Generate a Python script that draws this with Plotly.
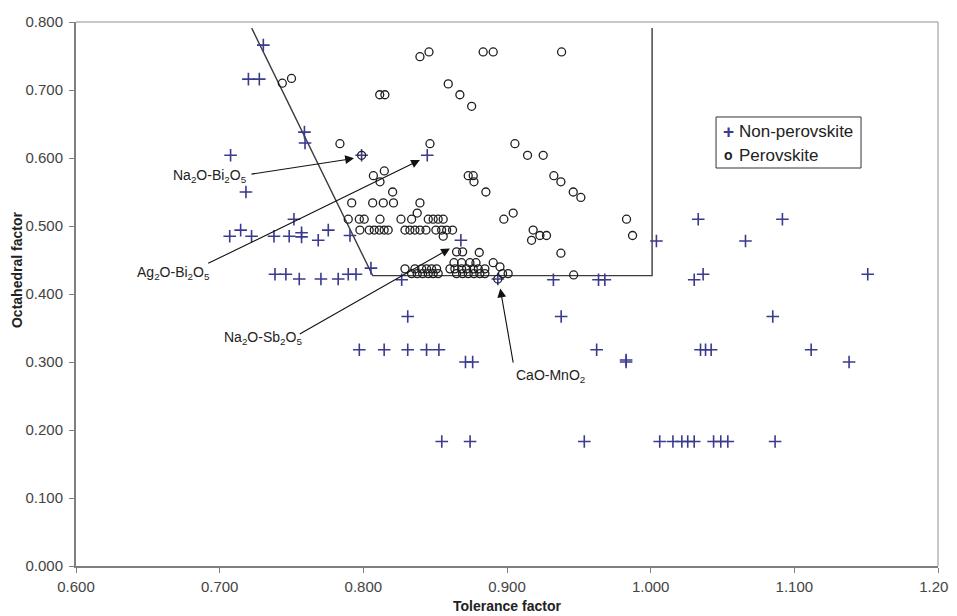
import plotly.graph_objects as go

# ---------------- data ----------------
perov_t = [0.7436, 0.7500, 0.8394, 0.8457, 0.8834, 0.8904, 0.9380, 0.8114, 0.8150, 0.8591,
           0.8672, 0.8754, 0.7837, 0.8464, 0.9055, 0.9143, 0.9252, 0.7988, 0.8070, 0.8146,
           0.8116, 0.8730, 0.8765, 0.8770, 0.9326, 0.9375, 0.8204, 0.8853, 0.9461, 0.9514,
           0.7919, 0.8065, 0.8139, 0.8210, 0.8394, 0.8375, 0.9043,
           0.7895, 0.7972, 0.8006, 0.8116, 0.8262, 0.8336, 0.8452, 0.8486, 0.8521, 0.8556,
           0.8978, 0.9832,
           0.7976, 0.8041, 0.8076, 0.8111, 0.8145, 0.8173, 0.8290, 0.8324, 0.8359, 0.8394,
           0.8436, 0.8505, 0.8545, 0.8580, 0.8621, 0.9182,
           0.8556, 0.9229, 0.9275, 0.9874, 0.9171,
           0.8649, 0.8691, 0.8807, 0.9375,
           0.8631, 0.8684, 0.8742, 0.8784, 0.8904, 0.8951,
           0.8290, 0.8359, 0.8406, 0.8440, 0.8475, 0.8510, 0.8603, 0.8637, 0.8684, 0.8719,
           0.8765, 0.8800, 0.8846,
           0.8336, 0.8375, 0.8413, 0.8452, 0.8486, 0.8521, 0.8649, 0.8691, 0.8730, 0.8770,
           0.8811, 0.8846, 0.8969, 0.9008, 0.9464, 0.8936]
perov_mu = [0.710, 0.717, 0.749, 0.756, 0.756, 0.756, 0.756, 0.693, 0.693, 0.709,
            0.693, 0.676, 0.621, 0.621, 0.621, 0.604, 0.604, 0.604, 0.574, 0.581,
            0.565, 0.574, 0.574, 0.565, 0.574, 0.565, 0.550, 0.550, 0.550, 0.542,
            0.534, 0.534, 0.534, 0.534, 0.534, 0.519, 0.519,
            0.510, 0.510, 0.510, 0.510, 0.510, 0.510, 0.510, 0.510, 0.510, 0.510,
            0.510, 0.510,
            0.494, 0.494, 0.494, 0.494, 0.494, 0.494, 0.494, 0.494, 0.494, 0.494,
            0.494, 0.494, 0.494, 0.494, 0.494, 0.494,
            0.485, 0.486, 0.486, 0.486, 0.479,
            0.462, 0.462, 0.461, 0.460,
            0.446, 0.446, 0.446, 0.446, 0.446, 0.440,
            0.437, 0.437, 0.437, 0.437, 0.437, 0.437, 0.437, 0.437, 0.437, 0.437,
            0.437, 0.437, 0.437,
            0.430, 0.430, 0.430, 0.430, 0.430, 0.430, 0.430, 0.430, 0.430, 0.430,
            0.430, 0.430, 0.430, 0.430, 0.428, 0.422]

nonperov_t = [0.7304, 0.7200, 0.7276, 0.7590, 0.7594, 0.7076, 0.7988, 0.8445, 0.7183, 0.7517,
              0.7070, 0.7146, 0.7222, 0.7378, 0.7484, 0.7570, 0.7570, 0.7686, 0.7756, 0.7907,
              0.8679,
              0.7385, 0.7461, 0.7554, 0.7705, 0.7825, 0.7895, 0.7949, 0.8053,
              0.8267, 0.9323, 0.9637, 0.9681, 1.0303, 1.0365, 1.1511, 0.8936,
              1.0331, 1.0917, 1.0040, 1.0660,
              0.8309, 0.9377, 1.0850,
              0.7972, 0.8145, 0.8309, 0.8440, 0.8526, 0.9624, 1.0347, 1.0382, 1.0421, 1.1117,
              0.8711, 0.8761, 0.9829, 0.9829, 1.1381,
              0.8546, 0.8743, 0.9538, 1.0063, 1.0155, 1.0217, 1.0258, 1.0303, 1.0438, 1.0488,
              1.0537, 1.0866]
nonperov_mu = [0.766, 0.716, 0.716, 0.638, 0.622, 0.604, 0.604, 0.604, 0.550, 0.510,
               0.485, 0.494, 0.485, 0.485, 0.485, 0.490, 0.484, 0.479, 0.494, 0.486,
               0.479,
               0.429, 0.429, 0.422, 0.422, 0.422, 0.429, 0.429, 0.438,
               0.421, 0.421, 0.421, 0.421, 0.421, 0.429, 0.429, 0.422,
               0.510, 0.510, 0.478, 0.478,
               0.367, 0.367, 0.367,
               0.318, 0.318, 0.318, 0.318, 0.318, 0.318, 0.318, 0.318, 0.318, 0.318,
               0.300, 0.300, 0.300, 0.303, 0.300,
               0.183, 0.183, 0.183, 0.183, 0.183, 0.183, 0.183, 0.183, 0.183, 0.183,
               0.183, 0.183]

# formability boundary
boundary_t = [0.7223, 0.8065, 1.0010, 1.0010]
boundary_mu = [0.791, 0.427, 0.427, 0.791]

# labelled systems and their arrows
label_text = ["Na<sub>2</sub>O-Bi<sub>2</sub>O<sub>5</sub>",
              "Ag<sub>2</sub>O-Bi<sub>2</sub>O<sub>5</sub>",
              "Na<sub>2</sub>O-Sb<sub>2</sub>O<sub>5</sub>",
              "CaO-MnO<sub>2</sub>"]
label_t = [0.6933, 0.6682, 0.7303, 0.9303]
label_mu = [0.5735, 0.4304, 0.3348, 0.279]
arrow_tail_t = [0.7211, 0.6910, 0.7547, 0.9045]
arrow_tail_mu = [0.576, 0.444, 0.340, 0.297]
arrow_head_t = [0.7935, 0.8394, 0.8603, 0.8953]
arrow_head_mu = [0.5995, 0.597, 0.467, 0.408]

legend_names = ["Non-perovskite", "Perovskite"]

x_ticks = [0.6, 0.7, 0.8, 0.9, 1.0, 1.1, 1.2]
y_ticks = [0.0, 0.1, 0.2, 0.3, 0.4, 0.5, 0.6, 0.7, 0.8]

FONT = "Liberation Sans, Arial, sans-serif"
PLUS_COLOR = "#3A3A8E"
CIRCLE_COLOR = "#1e1e1e"

fig = go.Figure()

fig.add_trace(go.Scatter(
    x=boundary_t, y=boundary_mu, mode="lines",
    line=dict(color="#3c3c3c", width=1.4), showlegend=False, hoverinfo="skip"))

fig.add_trace(go.Scatter(
    x=nonperov_t, y=nonperov_mu, mode="markers", name=legend_names[0], showlegend=False,
    marker=dict(symbol="cross-thin", size=9, line=dict(color=PLUS_COLOR, width=1.6),
                color=PLUS_COLOR)))

fig.add_trace(go.Scatter(
    x=perov_t, y=perov_mu, mode="markers", name=legend_names[1], showlegend=False,
    marker=dict(symbol="circle-open", size=8, line=dict(color=CIRCLE_COLOR, width=1.3),
                color=CIRCLE_COLOR)))

annotations = []
for i in range(len(label_text)):
    annotations.append(dict(
        x=arrow_head_t[i], y=arrow_head_mu[i], ax=arrow_tail_t[i], ay=arrow_tail_mu[i],
        xref="x", yref="y", axref="x", ayref="y", text="", showarrow=True,
        arrowhead=2, arrowsize=1.6, arrowwidth=1.1, arrowcolor="#111111", standoff=0))
    annotations.append(dict(
        x=label_t[i], y=label_mu[i], xref="x", yref="y", text=label_text[i],
        showarrow=False, font=dict(family=FONT, size=14, color="#222222")))

# axis titles
annotations.append(dict(
    x=0.5, y=-0.0735, xref="paper", yref="paper", text="<b>Tolerance factor</b>",
    showarrow=False, font=dict(family=FONT, size=14, color="#222222"),
    xanchor="center", yanchor="middle"))
annotations.append(dict(
    x=-0.0685, y=0.544, xref="paper", yref="paper", text="<b>Octahedral factor</b>",
    showarrow=False, textangle=-90, font=dict(family=FONT, size=14, color="#222222"),
    xanchor="center", yanchor="middle"))

# legend (boxed, upper right inside the plot)
annotations.append(dict(
    x=0.7564, y=0.7983, xref="paper", yref="paper", text="<b>+</b>", showarrow=False,
    font=dict(family=FONT, size=19, color=PLUS_COLOR), xanchor="center", yanchor="middle"))
annotations.append(dict(
    x=0.7668, y=0.7983, xref="paper", yref="paper", text=legend_names[0], showarrow=False,
    font=dict(family=FONT, size=17, color="#222222"), xanchor="left", yanchor="middle"))
annotations.append(dict(
    x=0.7564, y=0.7555, xref="paper", yref="paper", text="<b>o</b>", showarrow=False,
    font=dict(family=FONT, size=14, color=CIRCLE_COLOR), xanchor="center", yanchor="middle"))
annotations.append(dict(
    x=0.7668, y=0.7555, xref="paper", yref="paper", text=legend_names[1], showarrow=False,
    font=dict(family=FONT, size=17, color="#222222"), xanchor="left", yanchor="middle"))

shapes = [
    dict(type="line", xref="paper", yref="paper", x0=0, x1=1, y0=1, y1=1,
         line=dict(color="#b4b4b4", width=1.5)),
    dict(type="line", xref="paper", yref="paper", x0=1, x1=1, y0=0, y1=1,
         line=dict(color="#b4b4b4", width=1.5)),
    dict(type="rect", xref="paper", yref="paper", x0=0.7425, x1=0.9107, y0=0.7316, y1=0.8254,
         line=dict(color="#333333", width=1), fillcolor="white", layer="below"),
]

# the page body adds an 8 px offset, so the figure is sized 8 px smaller
fig.update_layout(
    width=949, height=608,
    margin=dict(l=68, r=19, t=14, b=50, autoexpand=False),
    paper_bgcolor="white", plot_bgcolor="white",
    font=dict(family=FONT, size=15, color="#444444"),
    annotations=annotations, shapes=shapes,
    showlegend=False,
)
fig.update_xaxes(range=[0.6, 1.2], tickvals=x_ticks, tickformat=".3f", automargin=False,
                 showgrid=False, zeroline=False, showline=True, linecolor="#7f7f7f",
                 linewidth=2, ticks="outside", ticklen=5, tickcolor="#7f7f7f",
                 tickfont=dict(family=FONT, size=15, color="#444444"),
                 ticklabelstandoff=1)
fig.update_yaxes(range=[0, 0.8], tickvals=y_ticks, tickformat=".3f", automargin=False,
                 showgrid=False, zeroline=False, showline=True, linecolor="#7f7f7f",
                 linewidth=2, ticks="outside", ticklen=5, tickcolor="#7f7f7f",
                 tickfont=dict(family=FONT, size=15, color="#444444"),
                 ticklabelstandoff=3)

fig.write_html("out.html")
